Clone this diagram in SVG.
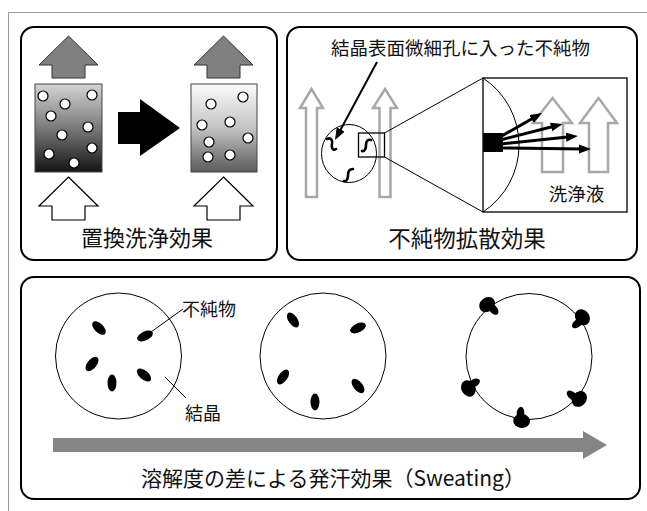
<svg xmlns="http://www.w3.org/2000/svg" width="647" height="511" viewBox="0 0 647 511">
  <style>
    .panel { fill: #ffffff; stroke: #000000; stroke-width: 2; }
    .label { font-family: "Noto Sans CJK JP", "Noto Sans", sans-serif; fill: #111111; }
    .dot { fill: #ffffff; stroke: #000000; stroke-width: 1.2; }
    .up-gray { fill: #808080; stroke: #333333; stroke-width: 1; }
    .up-white { fill: #ffffff; stroke: #000000; stroke-width: 1.2; }
    .up-hollow { fill: none; stroke: #a8a8a8; stroke-width: 2.5; }
    .thin { fill: none; stroke: #000000; stroke-width: 1; }
    .squiggle { fill: none; stroke: #000000; stroke-width: 2.6; stroke-linecap: round; }
    .imp { fill: #000000; }
  </style>
  <defs>
    <linearGradient id="bedDark" x1="0" y1="0" x2="0" y2="1">
      <stop offset="0" stop-color="#d4d4d4"/>
      <stop offset="0.5" stop-color="#7a7a7a"/>
      <stop offset="1" stop-color="#141414"/>
    </linearGradient>
    <linearGradient id="bedLight" x1="0" y1="0" x2="0" y2="1">
      <stop offset="0" stop-color="#fbfbfb"/>
      <stop offset="0.5" stop-color="#c4c4c4"/>
      <stop offset="1" stop-color="#5a5a5a"/>
    </linearGradient>
    <marker id="head" markerUnits="userSpaceOnUse" markerWidth="13" markerHeight="10" refX="4" refY="4.5" orient="auto">
      <path d="M0,0 L12,4.5 L0,9 z" fill="#000000"/>
    </marker>
    <!-- impurity droplet sitting on a crystal surface; +y points into the crystal -->
    <g id="sweatDrop">
      <ellipse cx="0" cy="-3" rx="8.5" ry="7" class="imp"/>
      <ellipse cx="2" cy="4.5" rx="3.8" ry="6.5" class="imp"/>
    </g>
  </defs>

  <!-- outer frame -->
  <path d="M8.5,511 V12.5 H647" fill="none" stroke="#999999" stroke-width="1"/>

  <!-- panel 1: displacement washing -->
  <g id="displacement">
    <rect class="panel" x="21" y="27" width="256" height="233" rx="13"/>
    <polygon class="up-gray" points="68.5,36 98,65 85,65 85,78 52,78 52,65 39,65"/>
    <polygon class="up-gray" points="223.5,36 253,65 240,65 240,78 207,78 207,65 194,65"/>
    <rect x="35" y="84" width="67" height="88" fill="url(#bedDark)" stroke="#444444" stroke-width="1"/>
    <rect x="191" y="84" width="66" height="88" fill="url(#bedLight)" stroke="#444444" stroke-width="1"/>
    <g>
      <circle class="dot" cx="43" cy="96" r="5"/>
      <circle class="dot" cx="65" cy="104" r="5"/>
      <circle class="dot" cx="92" cy="95" r="5"/>
      <circle class="dot" cx="51" cy="116" r="5"/>
      <circle class="dot" cx="88" cy="127" r="5"/>
      <circle class="dot" cx="62" cy="135" r="5"/>
      <circle class="dot" cx="92" cy="148" r="5"/>
      <circle class="dot" cx="49" cy="154" r="5"/>
      <circle class="dot" cx="74" cy="163" r="5"/>
    </g>
    <g>
      <circle class="dot" cx="243" cy="97" r="5"/>
      <circle class="dot" cx="211" cy="104" r="5"/>
      <circle class="dot" cx="202" cy="125" r="5"/>
      <circle class="dot" cx="230" cy="122" r="5"/>
      <circle class="dot" cx="248" cy="138" r="5"/>
      <circle class="dot" cx="209" cy="142" r="5"/>
      <circle class="dot" cx="208" cy="157" r="5"/>
      <circle class="dot" cx="230" cy="155" r="5"/>
    </g>
    <polygon points="118,112 140,112 140,99 180,128 140,156 140,144 118,144" fill="#000000"/>
    <polygon class="up-white" points="68.5,177 98,206 85,206 85,220 52,220 52,206 39,206"/>
    <polygon class="up-white" points="223.5,177 253,206 240,206 240,220 207,220 207,206 194,206"/>
    <text class="label" x="147" y="246" font-size="22" text-anchor="middle">置換洗浄効果</text>
  </g>

  <!-- panel 2: impurity diffusion -->
  <g id="diffusion">
    <rect class="panel" x="287" y="27" width="350" height="233" rx="13"/>
    <text class="label" x="460.5" y="55" font-size="18.5" text-anchor="middle">結晶表面微細孔に入った不純物</text>
    <polygon class="up-hollow" points="311.5,89 323,108 317,108 317,197 306,197 306,108 300,108"/>
    <polygon class="up-hollow" points="385,89 397,108 390.5,108 390.5,197 379.5,197 379.5,108 373,108"/>
    <ellipse cx="349" cy="153.5" rx="27.5" ry="29" fill="none" stroke="#000000" stroke-width="1"/>
    <rect x="358.5" y="133" width="26" height="24" fill="none" stroke="#000000" stroke-width="1.3"/>
    <path class="squiggle" d="M327,139 C331,137 333,141 332,144 C331,148 333,151 336,149"/>
    <path class="squiggle" d="M344,181 C347,182 348,178 348,175 C348,171 350,169 353,169"/>
    <path class="squiggle" d="M362,151 C365,152 366,148 366,145 C366,141 368,139 371,140"/>
    <line x1="384.5" y1="133" x2="483" y2="78" class="thin" stroke-width="1.3"/>
    <line x1="384.5" y1="157" x2="483" y2="212" class="thin" stroke-width="1.3"/>
    <rect x="483" y="78" width="144" height="134" fill="#ffffff" stroke="#000000" stroke-width="1.3"/>
    <path d="M483,78 A80.3,80.3 0 0 1 483,212" class="thin"/>
    <polygon class="up-hollow" points="552.5,98 572,123 563,123 563,172 542,172 542,123 533,123"/>
    <polygon class="up-hollow" points="598.5,98 617,123 608,123 608,172 589,172 589,123 580,123"/>
    <rect x="483" y="133" width="20" height="19" fill="#000000"/>
    <text class="label" x="576.5" y="201" font-size="18.5" text-anchor="middle">洗浄液</text>
    <text class="label" x="467" y="247" font-size="22.5" text-anchor="middle">不純物拡散効果</text>
  </g>

  <!-- panel 3: sweating -->
  <g id="sweating">
    <rect class="panel" x="21" y="277" width="619" height="222" rx="13"/>
    <g id="crystal-1">
      <circle cx="118.5" cy="356" r="63" class="thin"/>
      <ellipse class="imp" cx="0" cy="0" rx="8.5" ry="4.5" transform="translate(99,328) rotate(45)"/>
      <ellipse class="imp" cx="0" cy="0" rx="8.5" ry="4.5" transform="translate(145,336) rotate(-25)"/>
      <ellipse class="imp" cx="0" cy="0" rx="8.5" ry="4.5" transform="translate(92,364) rotate(-50)"/>
      <ellipse class="imp" cx="0" cy="0" rx="8.5" ry="4.5" transform="translate(112,383) rotate(90)"/>
      <ellipse class="imp" cx="0" cy="0" rx="8.5" ry="4.5" transform="translate(144,375) rotate(40)"/>
    </g>
    <g id="crystal-2">
      <circle cx="323" cy="356" r="63" class="thin"/>
      <ellipse class="imp" cx="0" cy="0" rx="8.5" ry="4.5" transform="translate(293,320) rotate(55)"/>
      <ellipse class="imp" cx="0" cy="0" rx="8.5" ry="4.5" transform="translate(283,377) rotate(-55)"/>
      <ellipse class="imp" cx="0" cy="0" rx="8.5" ry="4.5" transform="translate(315,402) rotate(90)"/>
      <ellipse class="imp" cx="0" cy="0" rx="8.5" ry="4.5" transform="translate(358,328) rotate(-25)"/>
      <ellipse class="imp" cx="0" cy="0" rx="8.5" ry="4.5" transform="translate(358,386) rotate(50)"/>
    </g>
    <g id="crystal-3">
      <circle cx="529" cy="356.5" r="63" class="thin"/>
      <use href="#sweatDrop" transform="translate(489,307) rotate(-39)"/>
      <use href="#sweatDrop" transform="translate(580,319) rotate(53)"/>
      <use href="#sweatDrop" transform="translate(471,387) rotate(241)"/>
      <use href="#sweatDrop" transform="translate(577,397) rotate(130)"/>
      <use href="#sweatDrop" transform="translate(522,418) rotate(186)"/>
    </g>
    <line x1="183" y1="309" x2="151" y2="332" class="thin"/>
    <text class="label" x="182" y="316" font-size="18">不純物</text>
    <line x1="165" y1="377" x2="186" y2="398" class="thin"/>
    <text class="label" x="185" y="420" font-size="18">結晶</text>
    <polygon points="53,438 583,438 583,431 607,445 583,459 583,452 53,452" fill="#858585"/>
    <text class="label" x="333" y="486" font-size="21" text-anchor="middle">溶解度の差による発汗効果（Sweating）</text>
  </g>

  <!-- connectors -->
  <g id="connectors" fill="none" stroke="#000000">
    <line x1="377" y1="62" x2="338.8" y2="133" stroke-width="2" marker-end="url(#head)"/>
    <line x1="500" y1="137" x2="535" y2="117" stroke-width="3" marker-end="url(#head)"/>
    <line x1="500" y1="140" x2="555" y2="126" stroke-width="3" marker-end="url(#head)"/>
    <line x1="500" y1="144" x2="570" y2="136.8" stroke-width="3" marker-end="url(#head)"/>
    <line x1="500" y1="148" x2="583" y2="149" stroke-width="3" marker-end="url(#head)"/>
  </g>
</svg>
